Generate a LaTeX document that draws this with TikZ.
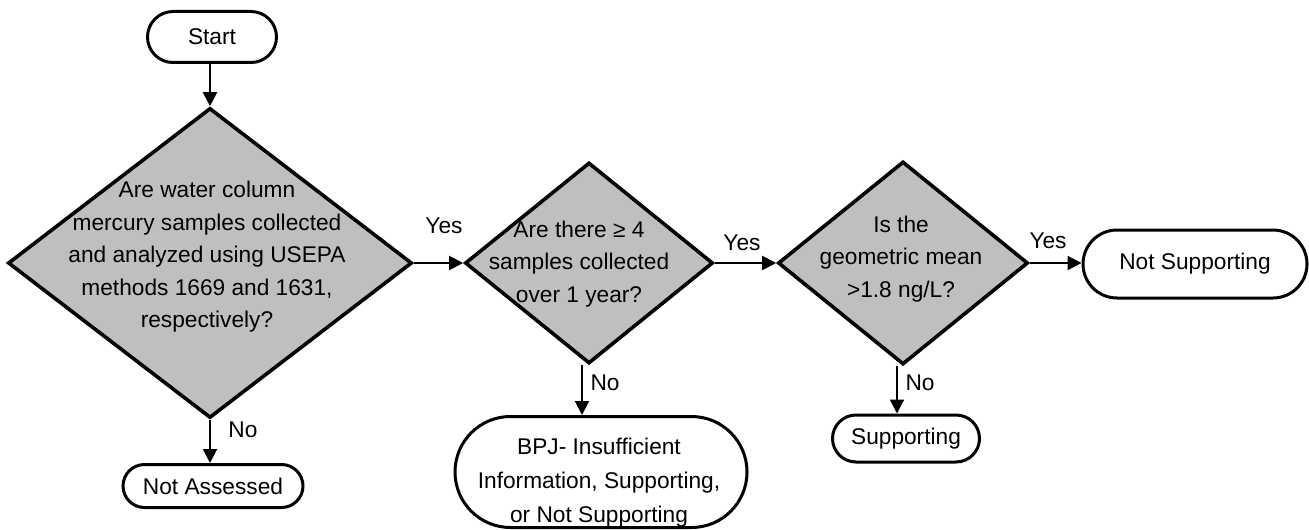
\documentclass[tikz,border=0pt]{standalone}
\usepackage{fontspec}
\setmainfont{Liberation Sans}
\usetikzlibrary{shapes.geometric,shapes.misc,arrows.meta}
\definecolor{diagfill}{RGB}{191,191,191}
\tikzset{
  decision/.style={shape=diamond, draw=black, line width=1.8pt, fill=diagfill, inner sep=0pt, line join=miter},
  term/.style={shape=rounded rectangle, draw=black, line width=1.5pt, fill=white, inner sep=0pt},
  qtext/.style={inner sep=0pt, align=center, font=\fontsize{11.35pt}{16.25pt}\selectfont},
  lbl/.style={inner sep=0pt, anchor=base, font=\fontsize{11.35pt}{16.25pt}\selectfont},
  flow/.style={line width=1pt, -{Triangle[length=7pt,width=7pt]}}
}
\begin{document}
\begin{tikzpicture}[x=0.5pt,y=-0.5pt]
\useasboundingbox (0,0) rectangle (1309,529);
% terminators
\node[term, minimum width=64.5pt, minimum height=25.5pt, font=\fontsize{11.35pt}{16.25pt}\selectfont] (start) at (212,37) {Start};
\node[term, minimum width=90pt, minimum height=21.5pt, font=\fontsize{11.35pt}{16.25pt}\selectfont] (nass) at (213,486) {Not Assessed};
\node[term, minimum width=146pt, minimum height=55.5pt] (bpj) at (601,472) {};
\node[term, minimum width=73.5pt, minimum height=23.5pt, font=\fontsize{11.35pt}{16.25pt}\selectfont] (sup) at (906,438.5) {Supporting};
\node[term, minimum width=112pt, minimum height=34pt, font=\fontsize{11.35pt}{16.25pt}\selectfont] (nsup) at (1195,264) {Not Supporting};
% decisions
\node[decision, minimum width=202pt, minimum height=155pt] (d1) at (210,263) {};
\node[decision, minimum width=124pt, minimum height=100.5pt] (d2) at (589,263) {};
\node[decision, minimum width=125pt, minimum height=101.5pt] (d3) at (903,263) {};
% texts
\node[qtext] (d1t) at (207,257) {Are water column\\mercury samples collected\\and analyzed using USEPA\\methods 1669 and 1631,\\respectively?};
\node[qtext] (d2t) at (579,264) {Are there ≥ 4\\samples collected\\over 1 year?};
\node[qtext] (d3t) at (901,259) {Is the\\geometric mean\\>1.8 ng/L?};
\node[qtext, font=\fontsize{11.35pt}{17pt}\selectfont] (bpjt) at (599,483) {BPJ- Insufficient\\Information, Supporting,\\or Not Supporting};
% connectors
\draw[flow] (d1.north |- start.south) -- (d1.north);
\draw[flow] (d1.south) -- (d1.south |- nass.north);
\draw[flow] (d1.east) -- (d2.west);
\draw[flow] (d2.east) -- (d3.west);
\draw[flow] (d3.east) -- (d3.east -| nsup.west);
\draw[flow] ([xshift=-3.5pt]d2.south) -- ([xshift=-3.5pt]d2.south |- bpj.north);
\draw[flow] ([xshift=-3pt]d3.south) -- ([xshift=-3pt]d3.south |- sup.north);
% labels
\node[lbl] (yes1) at (444,233) {Yes};
\node[lbl] (yes2) at (742,250) {Yes};
\node[lbl] (yes3) at (1048,248) {Yes};
\node[lbl] (no1) at (243,437) {No};
\node[lbl] (no2) at (605,390) {No};
\node[lbl] (no3) at (920,390) {No};
\end{tikzpicture}
\end{document}
